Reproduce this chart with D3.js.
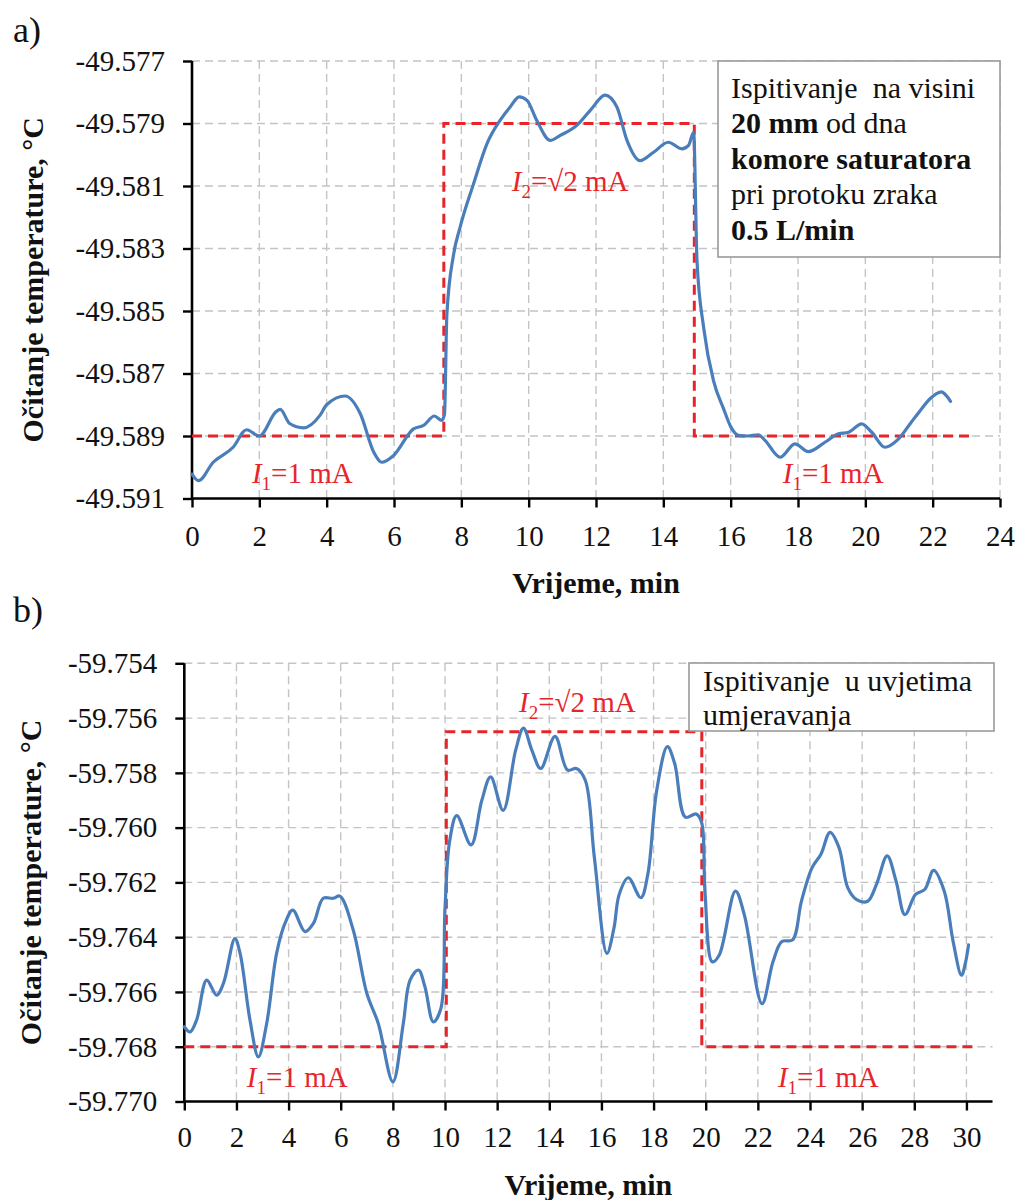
<!DOCTYPE html>
<html><head><meta charset="utf-8">
<script src="https://cdn.jsdelivr.net/npm/d3@7"></script>
<style>body{margin:0;background:#fff} svg text{font-family:"Liberation Serif","Times New Roman",serif;}</style>
</head><body>
<svg id="c" width="1018" height="1200" xmlns="http://www.w3.org/2000/svg"></svg>
<script>
// ---------- Panel a data ----------
const timeA = [0,0.19,0.63,1.22,1.62,2.0,2.5,2.62,2.9,3.31,3.8,4.0,4.55,5.0,5.4,5.64,5.98,6.58,6.88,7.2,7.42,7.5,7.57,7.77,7.96,8.36,8.76,9.15,9.45,9.72,9.95,10.24,10.64,10.94,11.43,11.83,12.27,12.62,12.92,13.31,13.71,14.15,14.55,14.75,14.9,15.0,15.2,15.5,15.79,16.0,16.23,16.5,16.82,17.02,17.47,17.91,18.31,18.8,19.2,19.5,19.89,20.19,20.58,20.98,21.37,21.6,21.93,22.26,22.4,22.53];
const tempA = [-49.59022,-49.59043,-49.58984,-49.58936,-49.5888,-49.589,-49.58822,-49.58815,-49.5886,-49.58874,-49.58834,-49.588,-49.58772,-49.58829,-49.58952,-49.58984,-49.58963,-49.58877,-49.58866,-49.58836,-49.5885,-49.5883,-49.58512,-49.58319,-49.58233,-49.58094,-49.57965,-49.5789,-49.57847,-49.57815,-49.57826,-49.5789,-49.57954,-49.57938,-49.57906,-49.57858,-49.57809,-49.57847,-49.57954,-49.58019,-49.57992,-49.5796,-49.57981,-49.5797,-49.57928,-49.5834,-49.58555,-49.58727,-49.58813,-49.5887,-49.58898,-49.589,-49.58896,-49.58914,-49.58968,-49.58925,-49.5895,-49.5892,-49.58893,-49.58888,-49.58861,-49.58888,-49.58936,-49.5891,-49.58855,-49.58823,-49.5878,-49.58759,-49.5877,-49.58789];
const stepTimeA = [0, 7.48, 7.48, 14.92, 14.92, 23.2];
const stepTempA = [-49.589, -49.589, -49.579, -49.579, -49.589, -49.589];
const xTicksA = [0,2,4,6,8,10,12,14,16,18,20,22,24];
const yTicksA = [-49.577,-49.579,-49.581,-49.583,-49.585,-49.587,-49.589,-49.591];

// ---------- Panel b data ----------
const timeB = [0,0.22,0.47,0.86,1.24,1.5,1.94,2.14,2.52,2.84,3.16,3.54,3.86,4.16,4.63,4.95,5.33,5.71,5.97,6.48,7.0,7.44,8.0,8.4,8.66,8.98,9.23,9.55,9.84,10.0,10.18,10.45,11.0,11.41,11.75,12.23,12.71,13.01,13.33,13.67,14.22,14.7,15.04,15.38,15.73,16.21,16.48,16.68,17.03,17.51,17.78,18.12,18.53,18.81,19.22,19.63,19.84,19.97,20.25,20.52,21.14,21.48,22.16,22.58,22.92,23.33,23.67,24.08,24.42,24.77,25.11,25.45,25.79,26.21,26.55,26.96,27.3,27.64,28.05,28.4,28.74,29.15,29.49,29.81,29.97,30.08];
const tempB = [-59.76727,-59.76746,-59.76703,-59.76557,-59.76612,-59.76569,-59.76405,-59.76459,-59.76703,-59.76837,-59.76715,-59.76459,-59.7635,-59.76301,-59.7638,-59.7635,-59.76258,-59.76258,-59.7625,-59.76374,-59.76605,-59.76715,-59.76928,-59.76715,-59.76557,-59.7652,-59.76581,-59.76709,-59.76661,-59.76293,-59.76048,-59.75956,-59.76063,-59.75901,-59.75815,-59.75937,-59.75717,-59.75637,-59.75717,-59.75784,-59.75667,-59.7579,-59.75784,-59.75827,-59.7611,-59.76459,-59.76367,-59.76244,-59.76183,-59.76256,-59.7617,-59.75864,-59.75704,-59.75766,-59.75962,-59.7595,-59.7598,-59.76232,-59.7649,-59.76465,-59.76232,-59.76318,-59.76643,-59.7649,-59.76416,-59.7641,-59.76269,-59.76146,-59.76097,-59.76017,-59.76072,-59.7622,-59.76263,-59.76269,-59.76207,-59.76103,-59.76195,-59.76318,-59.76244,-59.76226,-59.76156,-59.76232,-59.76416,-59.76539,-59.7649,-59.76428];
const stepTimeB = [0, 10.05, 10.05, 19.85, 19.85, 30.45];
const stepTempB = [-59.768, -59.768, -59.7565, -59.7565, -59.768, -59.768];
const xTicksB = [0,2,4,6,8,10,12,14,16,18,20,22,24,26,28,30];
const yTicksB = [-59.754,-59.756,-59.758,-59.76,-59.762,-59.764,-59.766,-59.768,-59.77];

const xTitle = "Vrijeme, min";
const yTitle = "Očitanje temperature, °C";

// ---------- drawing ----------
const svg = d3.select("#c");
svg.append("rect").attr("width",1018).attr("height",1200).attr("fill","#fff");
const RED = "#e8242b", BLUE = "#4a7ebb", GRID = "#c4c4c4";

function drawPanel(o) {
  const g = svg.append("g");
  const x = d3.scaleLinear().domain(o.xDomain).range([o.left, o.right]);
  const y = d3.scaleLinear().domain([o.yTicks[o.yTicks.length-1], o.yTicks[0]]).range([o.bottom, o.top]);

  g.selectAll(".hg").data(o.yTicks.slice(0, -1)).join("line")
    .attr("x1", o.left).attr("x2", o.right)
    .attr("y1", d => y(d)).attr("y2", d => y(d))
    .attr("stroke", GRID).attr("stroke-width", 1.4).attr("stroke-dasharray", "8,5");
  g.selectAll(".vg").data(o.xTicks.slice(1)).join("line")
    .attr("x1", d => x(d)).attr("x2", d => x(d))
    .attr("y1", o.top).attr("y2", o.bottom)
    .attr("stroke", GRID).attr("stroke-width", 1.4).attr("stroke-dasharray", "8,5");

  const ya = d3.axisLeft(y).tickValues(o.yTicks).tickSize(9).tickPadding(18)
    .tickFormat(d => d.toFixed(3));
  const yg = g.append("g").attr("transform", `translate(${o.left},0)`).call(ya);
  const xa = d3.axisBottom(x).tickValues(o.xTicks).tickSize(9).tickPadding(o.xPad)
    .tickFormat(d => String(d));
  const xg = g.append("g").attr("transform", `translate(0,${o.bottom})`).call(xa);
  [yg, xg].forEach(a => {
    a.attr("font-family", null).attr("font-size", null);
    a.select(".domain").attr("stroke", "#000").attr("stroke-width", 2.6);
    a.selectAll(".tick line").attr("stroke", "#000").attr("stroke-width", 2.4);
    a.selectAll(".tick text").style("font-size", "29px").attr("fill", "#111");
  });
  yg.select(".domain").attr("d", `M0,${o.top}V${o.bottom}`);
  xg.select(".domain").attr("d", `M${o.left},0H${o.right}`);

  const stepPts = o.stepT.map((t, i) => [t, o.stepV[i]]);
  g.append("path").datum(stepPts)
    .attr("d", d3.line().x(d => x(d[0])).y(d => y(d[1])))
    .attr("fill", "none").attr("stroke", RED).attr("stroke-width", 3)
    .attr("stroke-dasharray", "10,6");

  const pts = o.t.map((t, i) => [t, o.v[i]]);
  g.append("path").datum(pts)
    .attr("d", d3.line().curve(o.curve).x(d => x(d[0])).y(d => y(d[1])))
    .attr("fill", "none").attr("stroke", BLUE).attr("stroke-width", 3.2)
    .attr("stroke-linejoin", "round").attr("stroke-linecap", "round");

  g.append("rect").attr("x", o.box[0]).attr("y", o.box[1])
    .attr("width", o.box[2]).attr("height", o.box[3])
    .attr("fill", "#fff").attr("stroke", "#9a9a9a").attr("stroke-width", 1.6);
  o.boxLines.forEach(line => {
    const tx = g.append("text").attr("x", o.boxTextX).attr("y", line.y)
      .style("font-size", "30px").attr("fill", "#111").attr("xml:space", "preserve");
    line.parts.forEach(p => tx.append("tspan").text(p[0]).attr("font-weight", p[1] ? "bold" : "normal"));
  });

  o.labels.forEach(L => {
    const tx = g.append("text").attr("x", x(L.t)).attr("y", y(L.v))
      .style("font-size", "29px").attr("fill", RED);
    tx.append("tspan").text("I").attr("font-style", "italic");
    tx.append("tspan").text(L.sub).style("font-size", "19px").attr("dy", 7);
    tx.append("tspan").text(L.rest).attr("dy", -7);
  });

  g.append("text").attr("x", (o.left + o.right) / 2).attr("y", o.xTitleY)
    .attr("text-anchor", "middle").attr("font-weight", "bold")
    .style("font-size", "30px").attr("fill", "#111").text(xTitle);
  g.append("text").attr("transform", `translate(${o.yTitleX},${(o.top + o.bottom) / 2}) rotate(-90)`)
    .attr("text-anchor", "middle").attr("font-weight", "bold")
    .style("font-size", "30px").attr("fill", "#111").text(yTitle);
  g.append("text").attr("x", 13).attr("y", o.tagY)
    .style("font-size", "36px").attr("fill", "#111").text(o.tag);
}

drawPanel({
  xDomain: [0, 24], left: 192, right: 1000, top: 61, bottom: 498.5,
  xTicks: xTicksA, yTicks: yTicksA, xPad: 18,
  t: timeA, v: tempA, stepT: stepTimeA, stepV: stepTempA,
  curve: d3.curveMonotoneX,
  box: [718, 61, 282, 196], boxTextX: 731,
  boxLines: [
    {y: 98, parts: [["Ispitivanje  na visini", false]]},
    {y: 133, parts: [["20 mm", true], [" od dna", false]]},
    {y: 169, parts: [["komore saturatora", true]]},
    {y: 204, parts: [["pri protoku zraka", false]]},
    {y: 240, parts: [["0.5 L/min", true]]}
  ],
  labels: [
    {t: 1.78, v: -49.5905, sub: "1", rest: "=1 mA"},
    {t: 17.55, v: -49.5905, sub: "1", rest: "=1 mA"},
    {t: 9.5, v: -49.58115, sub: "2", rest: "=√2 mA"}
  ],
  xTitleY: 593, yTitleX: 43, tag: "a)", tagY: 42
});

drawPanel({
  xDomain: [0, 31], left: 184.3, right: 992.5, top: 663.3, bottom: 1101.5,
  xTicks: xTicksB, yTicks: yTicksB, xPad: 16,
  t: timeB, v: tempB, stepT: stepTimeB, stepV: stepTempB,
  curve: d3.curveCatmullRom.alpha(0.5),
  box: [689, 663, 305, 68], boxTextX: 703,
  boxLines: [
    {y: 691, parts: [["Ispitivanje  u uvjetima", false]]},
    {y: 725, parts: [["umjeravanja", false]]}
  ],
  labels: [
    {t: 2.4, v: -59.76948, sub: "1", rest: "=1 mA"},
    {t: 22.77, v: -59.76948, sub: "1", rest: "=1 mA"},
    {t: 12.84, v: -59.75578, sub: "2", rest: "=√2 mA"}
  ],
  xTitleY: 1195, yTitleX: 41, tag: "b)", tagY: 622
});
</script>
</body></html>
